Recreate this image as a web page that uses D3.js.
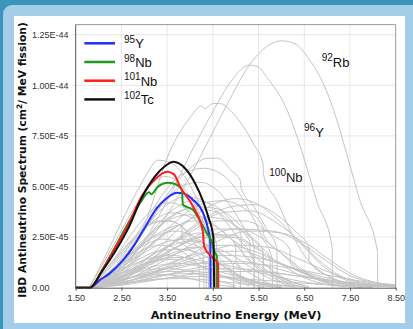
<!DOCTYPE html>
<html>
<head>
<meta charset="utf-8">
<script src="https://cdn.jsdelivr.net/npm/d3@7"></script>
<style>
  body { margin: 0; background: #a4cdea; }
  svg { display: block; }
</style>
</head>
<body>
<svg id="chart" width="413" height="329"></svg>
<script>
// values in units of 1e-45 cm^2/MeV/fission, energies in MeV
let xTicks = [1.5, 2.5, 3.5, 4.5, 5.5, 6.5, 7.5, 8.5]
let yTicks = [0, 2.5, 5, 7.5, 10, 12.5]
let yTickLabels = ['0.00', '2.50E-45', '5.00E-45', '7.50E-45', '1.00E-44', '1.25E-44']

let legendMass = ['95', '98', '101', '102']
let legendName = ['Y', 'Nb', 'Nb', 'Tc']
let legendColor = ['#1f2fff', '#1c9a1c', '#ff1c1c', '#111111']

let y95 = [[1.5, 0], [1.81, 0], [2.03, 0.38], [2.25, 0.72], [2.54, 1.37], [2.76, 2.03], [2.98, 2.85], [3.27, 3.92], [3.49, 4.42], [3.72, 4.69], [3.85, 4.66], [4.07, 4.33], [4.29, 3.67], [4.40, 2.85], [4.445, 2.2], [4.45, 0]]
let nb98 = [[1.5, 0], [1.81, 0], [2.07, 0.85], [2.36, 2.0], [2.65, 3.2], [2.94, 4.3], [3.1, 4.72], [3.16, 4.62], [3.28, 4.95], [3.42, 5.15], [3.53, 5.19], [3.7, 5.1], [3.82, 4.85], [3.845, 4.1], [4.07, 3.84], [4.22, 3.3], [4.37, 2.69], [4.47, 2.3], [4.55, 1.7], [4.585, 1.6], [4.59, 0]]
let nb101 = [[1.5, 0], [1.81, 0], [2.07, 0.82], [2.36, 1.95], [2.65, 3.1], [2.94, 4.5], [3.23, 5.35], [3.5, 5.73], [3.65, 5.6], [3.78, 5.0], [4.07, 4.0], [4.28, 2.8], [4.31, 2.03], [4.51, 1.45], [4.615, 1.2], [4.62, 0]]
let tc102 = [[1.5, 0], [1.81, 0], [2.07, 0.79], [2.36, 1.78], [2.65, 2.93], [2.94, 4.42], [3.23, 5.49], [3.45, 6.0], [3.64, 6.22], [3.89, 5.9], [4.11, 5.16], [4.29, 4.25], [4.4, 3.5], [4.51, 2.52], [4.53, 0]]

let rb92 = [[1.8, 0], [2.5, 0.8], [3.0, 2.0], [3.5, 3.6], [4.0, 5.5], [4.3, 6.8], [4.8, 9.0], [5.3, 11.0], [5.7, 11.95], [6.0, 12.2], [6.3, 12.05], [6.6, 11.3], [6.85, 10.4], [7.14, 8.8], [7.43, 6.6], [7.72, 4.3], [8.1, 1.8], [8.105, 0]]
let y96 = [[1.8, 0], [2.5, 0.9], [3.0, 2.3], [3.5, 4.3], [4.05, 6.8], [4.5, 8.7], [4.9, 10.2], [5.3, 11.0], [5.5, 10.9], [5.68, 10.4], [6.12, 8.8], [6.41, 7.0], [6.77, 4.3], [7.11, 2.0], [7.115, 0]]
let nb100 = [[1.8, 0], [2.5, 1.1], [3.0, 3.1], [3.57, 6.8], [4.0, 8.4], [4.25, 8.98], [4.32, 8.85], [4.5, 9.1], [4.65, 9.1], [4.95, 8.6], [5.39, 7.1], [5.6, 6.1], [5.605, 5.6], [5.9, 4.3], [6.2, 2.8], [6.5, 1.6], [6.8, 0.9], [7.3, 0.3], [7.6, 0.05]]

// the remaining beta branches, all drawn grey
let greySpectra = [
  rb92, y96, nb100,
  [[1.8, 0], [2.2, 1.8], [2.6, 3.7], [3.0, 5.4], [3.3, 6.3], [3.55, 6.2], [3.85, 5.6], [4.15, 4.4], [4.4, 3.0], [4.5, 2.4], [4.505, 0]],
  [[1.8, 0], [2.4, 1.0], [3.0, 2.8], [3.5, 4.6], [4.0, 5.9], [4.4, 6.4], [4.6, 6.4], [4.9, 5.8], [5.1, 5.3], [5.12, 4.9], [5.4, 4.0], [5.7, 2.8], [5.9, 2.0], [5.905, 0]],
  [[1.8, 0], [2.4, 1.2], [3.0, 3.2], [3.5, 4.9], [3.9, 5.7], [4.3, 5.9], [4.7, 5.6], [5.0, 4.9], [5.3, 3.8], [5.6, 2.4], [5.8, 1.4], [5.805, 0]],
  [[1.8, 0], [2.3, 2.0], [2.8, 4.0], [3.2, 5.2], [3.45, 5.5], [3.7, 5.3], [4.0, 4.5], [4.3, 3.2], [4.55, 1.9], [4.555, 0]],
  [[1.8, 0], [2.4, 1.1], [3.0, 2.9], [3.5, 4.1], [3.9, 4.5], [4.3, 4.3], [4.7, 3.5], [5.1, 2.3], [5.4, 1.4], [5.405, 0]],
  [[1.8, 0], [2.6, 0.6], [3.2, 1.7], [3.8, 3.0], [4.4, 4.0], [5.0, 4.4], [5.5, 4.1], [6.0, 3.2], [6.5, 2.0], [7.0, 0.9], [7.5, 0.3], [8.0, 0.1], [8.5, 0.05]],
  [[1.8, 0], [2.5, 0.7], [3.1, 2.0], [3.7, 3.3], [4.2, 4.1], [4.7, 4.3], [5.2, 3.9], [5.6, 3.0], [5.61, 2.6], [6.0, 1.7], [6.4, 0.9], [6.8, 0.4], [7.2, 0.1]],
  [[1.8, 0], [2.4, 0.9], [3.0, 2.3], [3.5, 3.4], [4.0, 3.9], [4.5, 3.8], [5.0, 3.0], [5.31, 2.3], [5.315, 1.6], [5.7, 0.8], [6.2, 0.2], [6.6, 0]],
  [[1.8, 0], [2.3, 1.1], [2.8, 2.4], [3.2, 3.3], [3.6, 3.7], [4.0, 3.5], [4.4, 2.8], [4.58, 2.2], [4.585, 1.5], [5.0, 0.7], [5.5, 0.2], [6.0, 0]],
  [[1.8, 0], [2.2, 1.0], [2.7, 2.3], [3.1, 3.1], [3.5, 3.3], [3.9, 2.9], [4.2, 2.2], [4.45, 1.4], [4.455, 0]],
  [[1.8, 0], [2.5, 0.5], [3.2, 1.5], [3.9, 2.6], [4.6, 3.3], [5.2, 3.3], [5.8, 2.6], [6.19, 1.9], [6.195, 1.2], [6.6, 0.6], [7.2, 0.15], [7.8, 0]],
  [[1.8, 0], [2.6, 0.4], [3.4, 1.3], [4.2, 2.3], [5.0, 2.9], [5.8, 2.8], [6.5, 2.1], [7.0, 1.3], [7.5, 0.6], [8.0, 0.25], [8.5, 0.1]],
  [[1.8, 0], [2.4, 0.8], [3.0, 1.9], [3.6, 2.9], [4.1, 3.3], [4.5, 3.1], [4.9, 2.4], [5.2, 1.6], [5.5, 0.8], [5.505, 0]],
  [[1.8, 0], [2.3, 0.9], [2.8, 1.9], [3.3, 2.6], [3.7, 2.8], [4.1, 2.5], [4.5, 1.8], [4.8, 1.1], [5.1, 0.5], [5.4, 0.15]],
  [[1.8, 0], [2.2, 0.7], [2.6, 1.5], [3.0, 2.1], [3.4, 2.4], [3.8, 2.2], [4.1, 1.7], [4.35, 1.1], [4.355, 0]],
  [[1.8, 0], [2.5, 0.5], [3.1, 1.2], [3.7, 2.0], [4.3, 2.5], [4.9, 2.5], [5.4, 2.0], [5.9, 1.3], [6.4, 0.6], [6.9, 0.2], [7.4, 0.05]],
  [[1.8, 0], [2.4, 0.4], [3.0, 1.0], [3.6, 1.6], [4.2, 2.0], [4.8, 2.1], [5.4, 1.8], [6.0, 1.2], [6.6, 0.6], [7.2, 0.25], [7.8, 0.1], [8.5, 0.05]],
  [[1.8, 0], [2.3, 0.6], [2.8, 1.3], [3.3, 1.8], [3.8, 1.9], [4.3, 1.6], [4.7, 1.1], [5.1, 0.6], [5.5, 0.25], [6.0, 0.05]],
  [[1.8, 0], [2.2, 0.5], [2.7, 1.1], [3.2, 1.5], [3.6, 1.6], [4.0, 1.4], [4.3, 1.0], [4.6, 0.6], [4.605, 0]],
  [[1.8, 0], [2.6, 0.3], [3.3, 0.8], [4.0, 1.3], [4.7, 1.6], [5.4, 1.5], [6.1, 1.1], [6.8, 0.6], [7.5, 0.25], [8.5, 0.1]],
  [[1.8, 0], [2.4, 0.3], [3.0, 0.7], [3.6, 1.0], [4.2, 1.2], [4.8, 1.1], [5.4, 0.8], [6.0, 0.5], [6.6, 0.25], [7.4, 0.1], [8.5, 0.05]],
  [[1.8, 0], [2.3, 0.4], [2.8, 0.8], [3.3, 1.1], [3.8, 1.2], [4.3, 1.0], [4.8, 0.7], [5.3, 0.4], [5.8, 0.15], [6.3, 0.05]],
  [[1.8, 0], [2.5, 0.2], [3.2, 0.5], [3.9, 0.8], [4.6, 0.95], [5.3, 0.9], [6.0, 0.7], [6.7, 0.45], [7.4, 0.25], [8.5, 0.12]],
  [[1.8, 0], [2.3, 0.3], [2.9, 0.6], [3.5, 0.8], [4.1, 0.8], [4.7, 0.6], [5.3, 0.35], [5.9, 0.15], [6.5, 0.05]],
  [[1.8, 0], [2.4, 0.15], [3.0, 0.35], [3.6, 0.5], [4.2, 0.55], [4.8, 0.5], [5.4, 0.4], [6.0, 0.3], [7.0, 0.15], [8.5, 0.08]],
  [[1.8, 0], [2.3, 1.3], [2.8, 2.9], [3.2, 3.9], [3.55, 4.2], [3.9, 3.9], [4.2, 3.1], [4.4, 2.4], [4.405, 0]],
  [[1.8, 0], [2.5, 1.0], [3.1, 2.6], [3.6, 3.8], [4.05, 4.3], [4.5, 4.1], [4.9, 3.3], [5.12, 2.6], [5.125, 1.8], [5.5, 1.0], [5.9, 0.4], [6.3, 0.1]],
  [[1.8, 0], [2.7, 0.6], [3.4, 1.8], [4.1, 3.0], [4.7, 3.7], [5.3, 3.8], [5.9, 3.2], [6.4, 2.3], [6.8, 1.4], [7.2, 0.7], [7.6, 0.3], [8.1, 0.1]],
  [[1.8, 0], [2.6, 0.5], [3.3, 1.4], [4.0, 2.4], [4.6, 2.9], [5.1, 2.9], [5.6, 2.4], [6.0, 1.7], [6.4, 1.0], [6.8, 0.4], [7.3, 0.1]],
  [[1.8, 0], [2.3, 0.8], [2.9, 2.0], [3.4, 2.8], [3.82, 3.1], [3.825, 2.4], [4.2, 2.0], [4.6, 1.3], [5.0, 0.6], [5.4, 0.2]],
  [[1.8, 0], [2.4, 0.6], [3.0, 1.4], [3.5, 2.0], [4.0, 2.3], [4.4, 2.1], [4.8, 1.5], [5.1, 0.9], [5.105, 0]],
  [[1.8, 0], [2.5, 0.35], [3.2, 0.9], [3.9, 1.5], [4.5, 1.8], [5.1, 1.8], [5.7, 1.4], [6.3, 0.9], [6.9, 0.45], [7.5, 0.2], [8.5, 0.1]],
  [[1.8, 0], [2.2, 0.9], [2.6, 2.0], [3.0, 2.9], [3.3, 3.3], [3.6, 3.3], [3.9, 2.8], [4.1, 2.2], [4.3, 1.5], [4.305, 0]],
  [[1.8, 0], [2.5, 1.3], [3.0, 2.9], [3.5, 4.4], [3.9, 5.1], [4.25, 5.2], [4.6, 4.8], [4.9, 4.0], [5.2, 2.9], [5.4, 2.1], [5.405, 0]],
  [[1.8, 0], [2.8, 0.8], [3.6, 2.2], [4.3, 3.4], [4.9, 4.0], [5.4, 4.1], [5.9, 3.6], [6.3, 2.8], [6.6, 2.0], [6.605, 1.3], [7.0, 0.6], [7.5, 0.15], [8.0, 0]],
  [[1.8, 0], [2.4, 0.5], [3.1, 1.3], [3.8, 2.1], [4.4, 2.6], [4.9, 2.6], [5.3, 2.2], [5.6, 1.7], [5.605, 1.0], [6.0, 0.5], [6.5, 0.1]],
  [[1.8, 0], [2.2, 0.4], [2.7, 0.9], [3.2, 1.3], [3.7, 1.4], [4.1, 1.2], [4.5, 0.8], [4.9, 0.4], [5.3, 0.1]],
  [[1.8, 0], [2.6, 0.2], [3.4, 0.6], [4.2, 1.0], [5.0, 1.2], [5.8, 1.1], [6.6, 0.8], [7.4, 0.45], [8.0, 0.25], [8.5, 0.15]],
  [[1.8, 0], [2.4, 0.8], [3.0, 2.2], [3.6, 3.5], [4.1, 4.0], [4.6, 3.9], [5.0, 3.3], [5.3, 2.6], [5.6, 1.8], [5.605, 0]],
  // dense low-lying branches
  [[1.8, 0], [2.2, 0.3], [2.6, 0.6], [3.0, 0.85], [3.4, 0.95], [3.8, 0.9], [4.2, 0.65], [4.6, 0.35], [5.0, 0.1]],
  [[1.8, 0], [2.3, 0.5], [2.8, 1.0], [3.3, 1.4], [3.8, 1.5], [4.2, 1.35], [4.6, 1.0], [4.95, 0.6], [4.955, 0]],
  [[1.8, 0], [2.5, 0.6], [3.1, 1.5], [3.7, 2.3], [4.2, 2.7], [4.7, 2.6], [5.1, 2.1], [5.5, 1.4], [5.9, 0.7], [6.3, 0.2]],
  [[1.8, 0], [2.4, 0.45], [3.0, 1.1], [3.6, 1.7], [4.1, 2.0], [4.6, 1.9], [5.0, 1.5], [5.4, 0.9], [5.8, 0.4], [6.2, 0.1]],
  [[1.8, 0], [2.3, 0.2], [2.9, 0.45], [3.5, 0.65], [4.0, 0.7], [4.5, 0.6], [5.0, 0.4], [5.5, 0.2], [6.0, 0.06]],
  [[1.8, 0], [2.7, 0.35], [3.5, 1.0], [4.3, 1.7], [5.0, 2.1], [5.7, 2.0], [6.3, 1.5], [6.9, 0.9], [7.5, 0.4], [8.1, 0.15], [8.5, 0.08]],
  [[1.8, 0], [2.5, 0.25], [3.2, 0.65], [3.9, 1.05], [4.5, 1.3], [5.1, 1.3], [5.7, 1.05], [6.3, 0.7], [6.9, 0.35], [7.5, 0.15], [8.5, 0.05]],
  [[1.8, 0], [2.2, 0.6], [2.6, 1.3], [3.0, 1.9], [3.35, 2.1], [3.7, 1.95], [4.0, 1.5], [4.2, 1.1], [4.205, 0]],
  [[1.8, 0], [2.3, 0.7], [2.9, 1.6], [3.4, 2.2], [3.9, 2.4], [4.3, 2.2], [4.7, 1.6], [4.95, 1.1], [4.955, 0.5], [5.3, 0.2], [5.6, 0]],
  [[1.8, 0], [2.4, 1.0], [3.0, 2.4], [3.5, 3.3], [3.95, 3.6], [4.4, 3.3], [4.8, 2.6], [5.0, 2.1], [5.005, 1.3], [5.4, 0.6], [5.8, 0.15]],
  [[1.8, 0], [2.6, 0.15], [3.3, 0.4], [4.0, 0.65], [4.7, 0.8], [5.4, 0.8], [6.1, 0.65], [6.8, 0.45], [7.5, 0.25], [8.5, 0.1]],
  [[1.8, 0], [2.3, 0.15], [2.8, 0.3], [3.3, 0.42], [3.8, 0.45], [4.3, 0.4], [4.8, 0.28], [5.3, 0.15], [5.8, 0.05]],
  [[1.8, 0], [2.5, 0.8], [3.1, 2.0], [3.7, 3.0], [4.2, 3.5], [4.7, 3.4], [5.1, 2.9], [5.5, 2.1], [5.75, 1.5], [5.755, 0.8], [6.2, 0.3], [6.6, 0.05]],
  [[1.8, 0], [2.9, 0.5], [3.8, 1.4], [4.6, 2.3], [5.3, 2.8], [6.0, 2.7], [6.6, 2.1], [7.1, 1.3], [7.6, 0.6], [8.1, 0.25], [8.5, 0.12]],
  [[1.8, 0], [2.2, 0.2], [2.6, 0.45], [3.0, 0.6], [3.4, 0.65], [3.8, 0.55], [4.2, 0.35], [4.6, 0.15], [5.0, 0.03]]
]

let svg = d3.select('#chart')

// frame around the figure
svg.append('rect').attr('width', 413).attr('height', 329).attr('fill', '#3b94ba')
svg.append('rect').attr('x', 3).attr('y', 5).attr('width', 430).attr('height', 340).attr('rx', 9).attr('fill', '#a4cdea')
svg.append('rect').attr('x', 14).attr('y', 16).attr('width', 391).attr('height', 307).attr('fill', '#ffffff')

let margin = { left: 75.7, right: 395.7, top: 24.6, bottom: 287.7 }

let xScale = d3.scaleLinear().domain([1.5, 8.5]).range([margin.left, margin.right])
let yScale = d3.scaleLinear().domain([0, 13]).range([margin.bottom, margin.top])

// dotted grid
let grid = svg.append('g')
grid.selectAll('.hgrid')
    .data(yTicks.slice(1))
    .enter()
    .append('line')
    .attr('x1', margin.left - 4).attr('x2', margin.right)
    .attr('y1', d => yScale(d)).attr('y2', d => yScale(d))
    .attr('stroke', '#d0d0d0').attr('stroke-dasharray', '1,1')
grid.selectAll('.vgrid')
    .data(xTicks.slice(1, -1))
    .enter()
    .append('line')
    .attr('x1', d => xScale(d)).attr('x2', d => xScale(d))
    .attr('y1', margin.top).attr('y2', margin.bottom)
    .attr('stroke', '#d0d0d0').attr('stroke-dasharray', '1,1')

let line = d3.line()
    .x(d => xScale(d[0]))
    .y(d => yScale(d[1]))
    .curve(d3.curveMonotoneX)

let plot = svg.append('g')
plot.selectAll('.grey')
    .data(greySpectra)
    .enter()
    .append('path')
    .attr('d', line)
    .attr('fill', 'none')
    .attr('stroke', '#c4c4c4')
    .attr('stroke-width', 1)

let colored = [y95, nb98, nb101, tc102]
plot.selectAll('.iso')
    .data(colored)
    .enter()
    .append('path')
    .attr('d', line)
    .attr('fill', 'none')
    .attr('stroke', (d, i) => legendColor[i])
    .attr('stroke-width', 2)
    .attr('stroke-linejoin', 'round')

// plot border: grey top/right, dark left/bottom
svg.append('path')
    .attr('d', `M${margin.left},${margin.top}H${margin.right}V${margin.bottom}`)
    .attr('fill', 'none').attr('stroke', '#9a9a9a')

let xAxis = d3.axisBottom(xScale)
    .tickValues(xTicks)
    .tickSizeInner(3)
    .tickSizeOuter(0)
    .tickPadding(4)
    .tickFormat(d3.format('.2f'))
let ax = svg.append('g')
    .attr('transform', `translate(0, ${margin.bottom})`)
    .call(xAxis)
ax.select('.domain').attr('stroke', '#555')
ax.selectAll('.tick line').attr('stroke', '#555')
ax.selectAll('text')
    .attr('font-family', 'Liberation Sans, Arial, sans-serif')
    .attr('font-size', '9px')
    .attr('fill', '#333')

svg.append('line')
    .attr('x1', margin.left).attr('x2', margin.left)
    .attr('y1', margin.top).attr('y2', margin.bottom)
    .attr('stroke', '#555')

svg.selectAll('.ylab')
    .data(yTicks)
    .enter()
    .append('text')
    .attr('x', 32)
    .attr('y', d => yScale(d) + 3.2)
    .attr('font-family', 'Liberation Sans, Arial, sans-serif')
    .attr('font-size', '9px')
    .attr('fill', '#333')
    .text((d, i) => yTickLabels[i])

// axis titles
svg.append('text')
    .attr('x', 236).attr('y', 319)
    .attr('text-anchor', 'middle')
    .attr('font-family', 'DejaVu Sans, Verdana, sans-serif')
    .attr('font-weight', 'bold')
    .attr('font-size', '11.3px')
    .attr('fill', '#111')
    .text('Antineutrino Energy (MeV)')

let yTitle = svg.append('text')
    .attr('transform', 'translate(25.5, 160) rotate(-90)')
    .attr('text-anchor', 'middle')
    .attr('font-family', 'DejaVu Sans, Verdana, sans-serif')
    .attr('font-weight', 'bold')
    .attr('font-size', '10.7px')
    .attr('fill', '#111')
yTitle.append('tspan').text('IBD Antineutrino Spectrum (cm')
yTitle.append('tspan').attr('dy', -4).attr('font-size', '7.5px').text('2')
yTitle.append('tspan').attr('dy', 4).text('/ MeV fission)')

// legend
let legend = svg.append('g')
legendMass.forEach((m, i) => {
    let ly = 43.3 + i * 18.7
    legend.append('line')
        .attr('x1', 84.3).attr('x2', 115)
        .attr('y1', ly).attr('y2', ly)
        .attr('stroke', legendColor[i]).attr('stroke-width', 2.5)
    let t = legend.append('text')
        .attr('x', 124).attr('y', ly + 5)
        .attr('font-family', 'Liberation Sans, Arial, sans-serif')
        .attr('fill', '#111')
    t.append('tspan').attr('font-size', '10px').attr('dy', -5.5).text(m)
    t.append('tspan').attr('font-size', '13px').attr('dy', 5.5).text(legendName[i])
})

// labels of the big grey spectra
let notes = [['92', 'Rb', 321.7, 66.7], ['96', 'Y', 304, 136.7], ['100', 'Nb', 269.3, 181.7]]
notes.forEach(n => {
    let t = svg.append('text')
        .attr('x', n[2]).attr('y', n[3])
        .attr('font-family', 'Liberation Sans, Arial, sans-serif')
        .attr('fill', '#111')
    t.append('tspan').attr('font-size', '10px').attr('dy', -5.5).text(n[0])
    t.append('tspan').attr('font-size', '13px').attr('dy', 5.5).text(n[1])
})
</script>
</body>
</html>
